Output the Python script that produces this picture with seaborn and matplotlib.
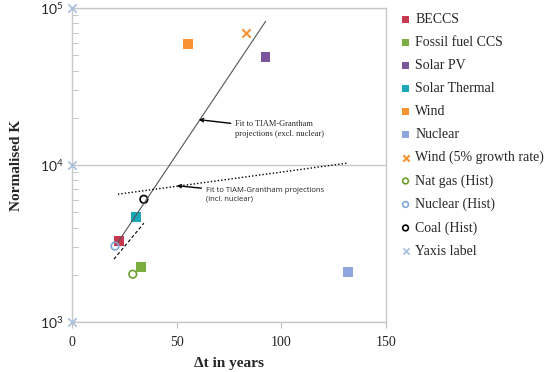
import matplotlib
matplotlib.use("Agg")
import matplotlib.pyplot as plt
import matplotlib.ticker as mticker
import seaborn as sns

# point series (delta t in years, normalised K)
beccs_x, beccs_y = [22.4], [3280]
ffccs_x, ffccs_y = [32.9], [2240]
solarpv_x, solarpv_y = [92.4], [48700]
solarth_x, solarth_y = [30.5], [4670]
wind_x, wind_y = [55.2], [58900]
nuclear_x, nuclear_y = [131.9], [2080]
wind5_x, wind5_y = [83.3], [69000]
natgas_hist_x, natgas_hist_y = [29.0], [2020]
nuclear_hist_x, nuclear_hist_y = [20.5], [3050]
coal_hist_x, coal_hist_y = [34.3], [6060]
yaxis_x, yaxis_y = [0, 0, 0], [1e3, 1e4, 1e5]

# fit lines
fit_excl_x, fit_excl_y = [22.0, 92.5], [3240, 82600]
fit_incl_x, fit_incl_y = [21.9, 131.4], [6530, 10300]
fit_hist_x, fit_hist_y = [20.0, 34.3], [2520, 4270]

xticks = [0, 50, 100, 150]
yticks = [1e3, 1e4, 1e5]
ytick_labels = ["$10^{3}$", "$10^{4}$", "$10^{5}$"]

sns.set_style("white")
plt.rcParams["font.family"] = ["Liberation Serif", "DejaVu Serif"]
plt.rcParams["mathtext.fontset"] = "custom"
plt.rcParams["mathtext.rm"] = "Lato"
plt.rcParams["mathtext.it"] = "Lato"

fig = plt.figure(figsize=(5.5, 3.72), dpi=100)
ax = fig.add_axes([0.131, 0.134, 0.571, 0.844])

sq = dict(marker="s", s=50, edgecolor="none")
circ = dict(marker="o", s=30, facecolor="none", linewidth=1.2)
sns.scatterplot(x=beccs_x, y=beccs_y, color="#C8384E", label="BECCS", ax=ax, **sq)
sns.scatterplot(x=ffccs_x, y=ffccs_y, color="#7AAF3F", label="Fossil fuel CCS", ax=ax, **sq)
sns.scatterplot(x=solarpv_x, y=solarpv_y, color="#7B559B", label="Solar PV", ax=ax, **sq)
sns.scatterplot(x=solarth_x, y=solarth_y, color="#1BA7B8", label="Solar Thermal", ax=ax, **sq)
sns.scatterplot(x=wind_x, y=wind_y, color="#F79233", label="Wind", ax=ax, **sq)
sns.scatterplot(x=nuclear_x, y=nuclear_y, color="#8EA5DD", label="Nuclear", ax=ax, **sq)
sns.scatterplot(x=wind5_x, y=wind5_y, color="#F79233", marker="x", s=36, linewidth=1.5,
                label="Wind (5% growth rate)", ax=ax)
sns.scatterplot(x=natgas_hist_x, y=natgas_hist_y, edgecolor="#6B9E2E", label="Nat gas (Hist)", ax=ax, **circ)
sns.scatterplot(x=nuclear_hist_x, y=nuclear_hist_y, edgecolor="#7FA8D8", label="Nuclear (Hist)", ax=ax, **circ)
sns.scatterplot(x=coal_hist_x, y=coal_hist_y, edgecolor="black", label="Coal (Hist)", ax=ax, **circ)
sns.scatterplot(x=yaxis_x, y=yaxis_y, color="#A7BEDD", marker="x", s=36, linewidth=1.2,
                label="Yaxis label", ax=ax, clip_on=False, zorder=5)

sns.lineplot(x=fit_excl_x, y=fit_excl_y, color="#555555", linewidth=0.8, ax=ax, label="_excl")
sns.lineplot(x=fit_incl_x, y=fit_incl_y, color="black", linewidth=1.0, linestyle=(0, (1, 1.5)),
             ax=ax, label="_incl")
sns.lineplot(x=fit_hist_x, y=fit_hist_y, color="black", linewidth=0.8, linestyle=(0, (3, 2)),
             ax=ax, label="_hist")

ax.set_yscale("log")
ax.set_xlim(0, 150)
ax.set_ylim(1e3, 1e5)
ax.set_xticks(xticks)
ax.set_xticklabels([str(t) for t in xticks], fontsize=10)
ax.set_yticks(yticks)
ax.set_yticklabels(ytick_labels, fontsize=10)
ax.yaxis.set_minor_locator(mticker.LogLocator(base=10, subs=range(2, 10)))
ax.yaxis.set_minor_formatter(mticker.NullFormatter())
ax.tick_params(axis="y", which="major", length=0, pad=6)
ax.tick_params(axis="y", which="minor", direction="in", length=4, color="#BBBBBB", left=True)
ax.tick_params(axis="x", which="major", direction="out", length=4, color="#BBBBBB", bottom=True, pad=6)
ax.grid(axis="y", which="major", color="#C8C8C8", linewidth=1)
for side in ["left", "right", "bottom", "top"]:
    ax.spines[side].set_color("#C8C8C8")
    ax.spines[side].set_linewidth(1)

ax.set_xlabel("Δt in years", fontsize=11, fontweight="bold", labelpad=6)
ax.set_ylabel("Normalised K", fontsize=11, fontweight="bold", labelpad=12)

ax.annotate("Fit to TIAM-Grantham\nprojections (excl. nuclear)", xy=(60.5, 19500), xytext=(78, 17000),
            fontsize=6, va="center", ha="left",
            arrowprops=dict(arrowstyle="->", color="black", lw=1, shrinkA=1, shrinkB=0))
ax.annotate("Fit to TIAM-Grantham projections\n(incl. nuclear)", xy=(50, 7400), xytext=(64, 6500),
            fontsize=5.5, va="center", ha="left", family=["Open Sans", "DejaVu Sans"],
            arrowprops=dict(arrowstyle="->", color="black", lw=1, shrinkA=1, shrinkB=0))

handles, labels = ax.get_legend_handles_labels()
keep = [(h, l) for h, l in zip(handles, labels) if not l.startswith("_")]
ax.legend([h for h, _ in keep], [l for _, l in keep], loc="upper left", bbox_to_anchor=(1.0, 1.025),
          frameon=False, fontsize=10, handletextpad=0.2, labelspacing=0.72, handlelength=1.0,
          markerscale=0.75)

fig.savefig("out.png", dpi=100)
